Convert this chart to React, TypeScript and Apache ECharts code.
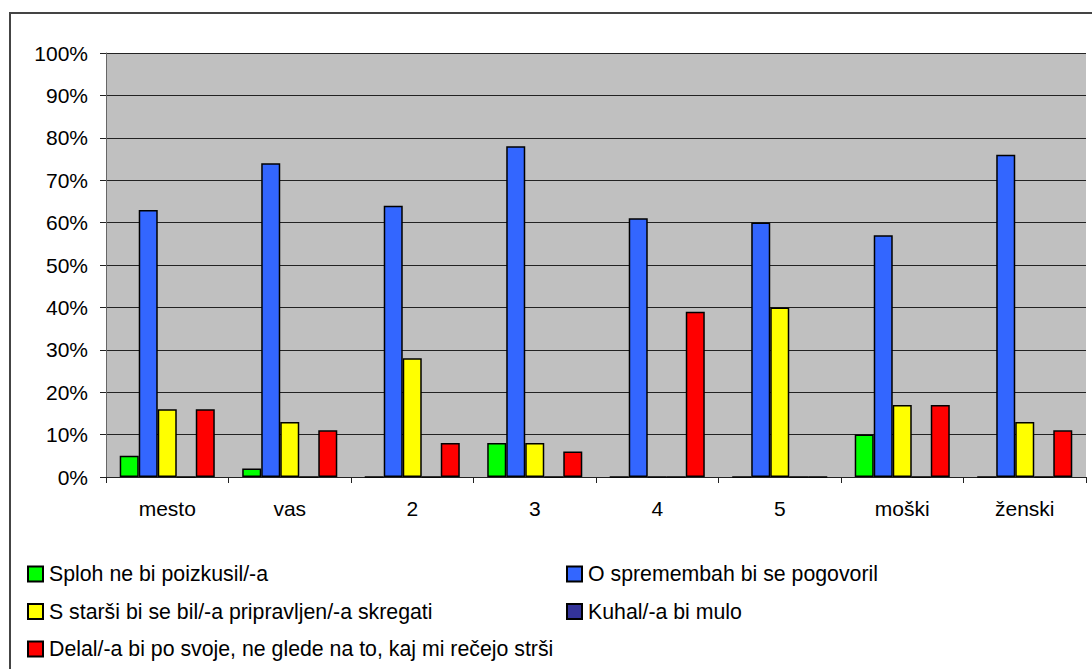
import React, { useEffect, useRef } from "react";
import * as echarts from "echarts";

const categories = ["mesto", "vas", "2", "3", "4", "5", "moški", "ženski"];
const seriesNames = [
  "Sploh ne bi poizkusil/-a",
  "O spremembah bi se pogovoril",
  "S starši bi se bil/-a pripravljen/-a skregati",
  "Kuhal/-a bi mulo",
  "Delal/-a bi po svoje, ne glede na to, kaj mi rečejo strši",
];
const splohValues = [5, 2, 0, 8, 0, 0, 10, 0];
const spremembahValues = [63, 74, 64, 78, 61, 60, 57, 76];
const skregatiValues = [16, 13, 28, 8, 0, 40, 17, 13];
const muloValues = [0, 0, 0, 0, 0, 0, 0, 0];
const svojeValues = [16, 11, 8, 6, 39, 0, 17, 11];
const seriesColors = ["#00FF00", "#3366FF", "#FFFF00", "#333399", "#FF0000"];
const yTicks = { min: 0, max: 100, interval: 10 };

const FONT = "'Liberation Sans', Arial, sans-serif";

export default function App() {
  const ref = useRef<HTMLDivElement>(null);
  useEffect(() => {
    if (!ref.current) return;
    const chart = echarts.init(ref.current, null, { renderer: "svg" });
    const values = [splohValues, spremembahValues, skregatiValues, muloValues, svojeValues];
    const legendPos = [
      { left: 27, top: 563.5 },
      { left: 566, top: 563.5 },
      { left: 27, top: 601 },
      { left: 566, top: 601 },
      { left: 27, top: 638.5 },
    ];
    chart.setOption({
      animation: false,
      textStyle: { fontFamily: FONT },
      graphic: [
        {
          type: "rect",
          shape: { x: 10, y: 13, width: 1200, height: 800 },
          style: { fill: "none", stroke: "#444", lineWidth: 2 },
          silent: true,
        },
      ],
      grid: {
        left: 106,
        top: 53,
        right: 6,
        bottom: 192,
        show: true,
        backgroundColor: "#C0C0C0",
        borderWidth: 0,
      },
      legend: seriesNames.map((n, i) => ({
        data: [n],
        left: legendPos[i].left,
        top: legendPos[i].top,
        padding: 0,
        itemWidth: 15,
        itemHeight: 15,
        itemGap: 0,
        icon: "rect",
        selectedMode: false,
        textStyle: { fontSize: 21.3, color: "#000", fontFamily: FONT, lineHeight: 21, padding: [0, 0, 0, 1] },
      })),
      xAxis: {
        type: "category",
        data: categories,
        axisLine: { lineStyle: { color: "#222", width: 1 } },
        axisTick: { show: true, length: 6, lineStyle: { color: "#222" } },
        axisLabel: { fontSize: 21, color: "#000", margin: 21, fontFamily: FONT },
      },
      yAxis: {
        type: "value",
        min: yTicks.min,
        max: yTicks.max,
        interval: yTicks.interval,
        axisLine: { show: true, lineStyle: { color: "#666", width: 1 } },
        axisTick: { show: true, length: 6, lineStyle: { color: "#222" } },
        axisLabel: { fontSize: 21, color: "#000", margin: 18, formatter: "{value}%", fontFamily: FONT },
        splitLine: { show: true, lineStyle: { color: "#222", width: 1 } },
      },
      series: seriesNames.map((n, i) => ({
        name: n,
        type: "bar",
        data: values[i],
        barGap: "0%",
        barCategoryGap: "22.4%",
        itemStyle: { color: seriesColors[i], borderColor: "#000", borderWidth: 1.5 },
      })),
    });
    return () => chart.dispose();
  }, []);
  return (
    <div
      ref={ref}
      style={{ position: "absolute", left: 0, top: 0, width: 1092, height: 669, background: "#fff" }}
    />
  );
}
